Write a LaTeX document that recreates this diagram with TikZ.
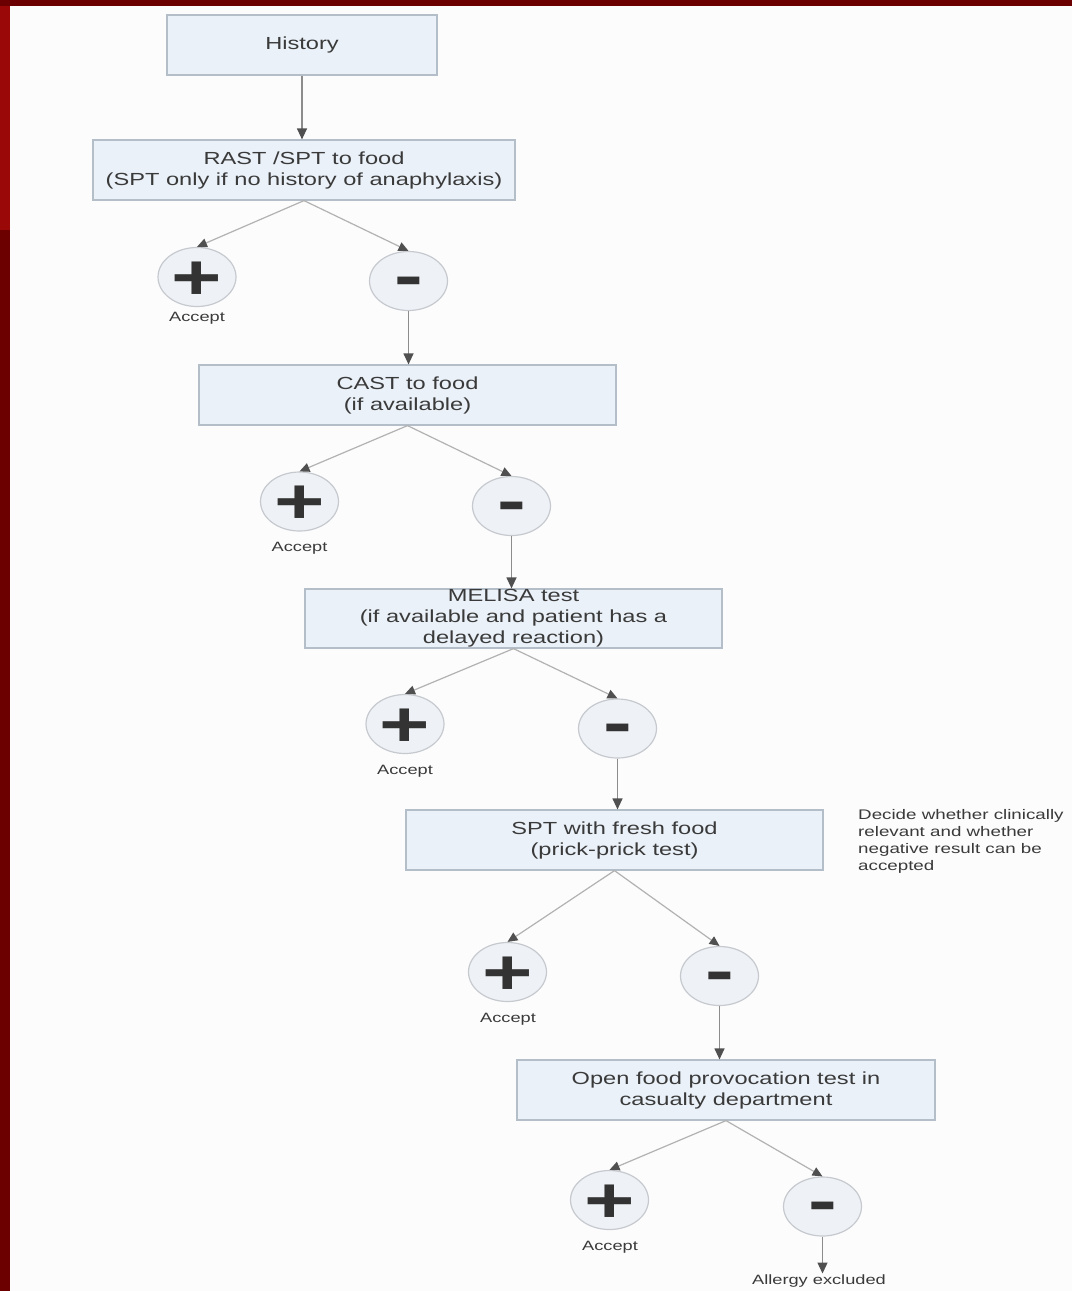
\documentclass[tikz,border=0pt]{standalone}
\usepackage{fontspec}
\setmainfont{Liberation Sans}[FakeStretch=1.35]
\usetikzlibrary{shapes.geometric,arrows.meta}
\definecolor{bordA}{HTML}{6C0000}
\definecolor{bordB}{HTML}{9A0808}
\definecolor{paper}{HTML}{FCFCFD}
\definecolor{boxline}{HTML}{B4BEC8}
\definecolor{boxfill}{HTML}{EAF1F8}
\definecolor{circline}{HTML}{C6CACF}
\definecolor{circfill}{HTML}{EEF1F5}
\definecolor{txt}{HTML}{3A3A3A}
\definecolor{vline}{HTML}{8C8C8C}
\definecolor{dline}{HTML}{B2B2B2}
\definecolor{tip}{HTML}{505050}
\begin{document}
\begin{tikzpicture}[x=1pt,y=-1pt,
  box/.style={draw=boxline, fill=boxfill, line width=1.2pt, minimum width=417pt, minimum height=60pt, align=center, font=\fontsize{17.5}{21}\selectfont, text=txt, inner sep=0pt},
  sign/.style={ellipse, draw=circline, fill=circfill, line width=1.2pt, minimum width=78pt, minimum height=59pt, inner sep=0pt},
  plusglyph/.style={font=\fontsize{64}{64}\bfseries\selectfont, text=black!80, anchor=base, inner sep=0pt, yshift=-22pt},
  minusglyph/.style={font=\fontsize{64}{64}\bfseries\selectfont, text=black!80, anchor=base, inner sep=0pt, yshift=-16pt},
  lbl/.style={font=\fontsize{13.5}{16}\selectfont, text=txt, inner sep=1pt},
  varrow/.style={draw=vline, line width=1.2pt, -{Triangle[length=11pt,width=10pt,color=tip]}},
  darrow/.style={draw=dline, line width=1.2pt, -{Triangle[length=10pt,width=9pt,color=tip]}}
]
\useasboundingbox (0,0) rectangle (1072,1291);
% background and red frame
\fill[bordA] (0,0) rectangle (1072,1291);
\fill[bordB] (0,6) rectangle (10,230);
\fill[paper] (10,6) rectangle (1072,1291);

% boxes
\node[box, minimum width=270pt] (hist) at (302,45) {History};
\node[box, minimum width=422pt] (rast) at (304,170) {RAST /SPT to food\\(SPT only if no history of anaphylaxis)};
\node[box] (cast) at (407.5,395) {CAST to food\\(if available)};
\node[box, minimum height=59pt] (mel) at (513.5,618.5) {MELISA test\\(if available and patient has a\\delayed reaction)};
\node[box] (spt) at (614.5,840) {SPT with fresh food\\(prick-prick test)};
\node[box, minimum width=418pt] (open) at (726,1090) {Open food provocation test in\\casualty department};

% plus / minus ellipses
\node[sign] (p1) at (197,277) {};
\node[sign] (m1) at (408.5,281) {};
\node[sign] (p2) at (299.5,501.5) {};
\node[sign] (m2) at (511.5,506) {};
\node[sign] (p3) at (405,724) {};
\node[sign] (m3) at (617.5,728.5) {};
\node[sign] (p4) at (507.5,972) {};
\node[sign] (m4) at (719.5,976) {};
\node[sign] (p5) at (609.5,1200) {};
\node[sign] (m5) at (822.5,1206.5) {};

\node[plusglyph] (p1s) at (p1) {+};
\node[plusglyph] (p2s) at (p2) {+};
\node[plusglyph] (p3s) at (p3) {+};
\node[plusglyph] (p4s) at (p4) {+};
\node[plusglyph] (p5s) at (p5) {+};
\node[minusglyph] (m1s) at (m1) {-};
\node[minusglyph] (m2s) at (m2) {-};
\node[minusglyph] (m3s) at (m3) {-};
\node[minusglyph] (m4s) at (m4) {-};
\node[minusglyph] (m5s) at (m5) {-};

% labels
\node[lbl] (a1) at (197,318) {Accept};
\node[lbl] (a2) at (299.5,548) {Accept};
\node[lbl] (a3) at (405,771) {Accept};
\node[lbl] (a4) at (508,1019) {Accept};
\node[lbl] (a5) at (610,1247) {Accept};
\node[lbl] (ae) at (819,1281) {Allergy excluded};
\node[lbl, anchor=north west, align=left, font=\fontsize{13.9}{17}\selectfont] (note) at (857,808)
  {Decide whether clinically\\relevant and whether\\negative result can be\\accepted};

% connectors
\draw[varrow] (hist.south) -- (hist.south |- rast.north);
\draw[darrow] (rast.south) -- (p1.north);
\draw[darrow] (rast.south) -- (m1.north);
\draw[varrow] (m1.south) -- (m1.south |- cast.north);
\draw[darrow] (cast.south) -- (p2.north);
\draw[darrow] (cast.south) -- (m2.north);
\draw[varrow] (m2.south) -- (m2.south |- mel.north);
\draw[darrow] (mel.south) -- (p3.north);
\draw[darrow] (mel.south) -- (m3.north);
\draw[varrow] (m3.south) -- (m3.south |- spt.north);
\draw[darrow] (spt.south) -- (p4.north);
\draw[darrow] (spt.south) -- (m4.north);
\draw[varrow] (m4.south) -- (m4.south |- open.north);
\draw[darrow] (open.south) -- (p5.north);
\draw[darrow] (open.south) -- (m5.north);
\draw[varrow] (m5.south) -- (m5.south |- ae.north);
\end{tikzpicture}
\end{document}
